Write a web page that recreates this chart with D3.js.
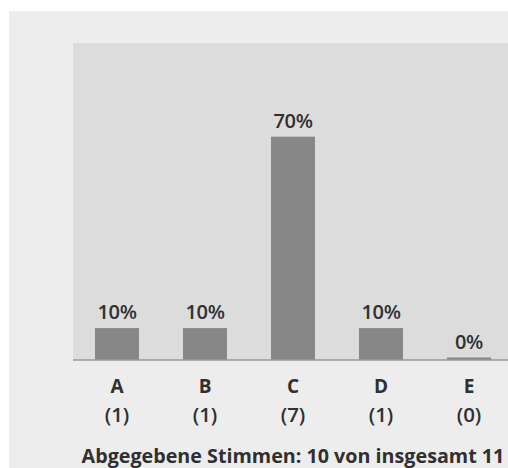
<!DOCTYPE html>
<html>
<head>
<meta charset="utf-8">
<script src="https://cdn.jsdelivr.net/npm/d3@7"></script>
<style>
  html, body { margin: 0; padding: 0; background: #ffffff; overflow: hidden; }
  svg { display: block; }
  text { font-family: "Open Sans", "Noto Sans", sans-serif; fill: #303030; }
</style>
</head>
<body>
<div id="chart"></div>
<script>
// Poll results: answer options, vote counts and share of votes cast
const categories = ["A", "B", "C", "D", "E"];
const votes = [1, 1, 7, 1, 0];
const percents = [10, 10, 70, 10, 0];
const castVotes = 10;
const totalVoters = 11;

const W = 508, H = 468;
const svg = d3.select("#chart").append("svg")
  .attr("width", W).attr("height", H);

// outer light panel
svg.append("rect")
  .attr("x", 9).attr("y", 11)
  .attr("width", W + 20).attr("height", H)
  .attr("fill", "#ededed");

const plot = { left: 73, top: 43, right: 513, bottom: 360 };

// darker plot area
svg.append("rect")
  .attr("x", plot.left).attr("y", plot.top)
  .attr("width", W + 20 - plot.left).attr("height", plot.bottom - plot.top)
  .attr("fill", "#dcdcdc");

const x = d3.scaleBand()
  .domain(categories)
  .range([plot.left, plot.right])
  .paddingInner(0.5)
  .paddingOuter(0.25);

const y = d3.scaleLinear()
  .domain([0, 100])
  .range([plot.bottom, plot.bottom - 319]);

const data = categories.map((c, i) => ({ cat: c, votes: votes[i], pct: percents[i] }));
const barTop = d => Math.min(y(d.pct), plot.bottom - 2.5);

// bars (empty options still get a thin stub)
svg.append("g").selectAll("rect")
  .data(data)
  .join("rect")
  .attr("x", d => x(d.cat))
  .attr("width", x.bandwidth())
  .attr("y", barTop)
  .attr("height", d => plot.bottom - barTop(d))
  .attr("fill", "#878787");

// value labels
svg.append("g").selectAll("text")
  .data(data)
  .join("text")
  .attr("x", d => x(d.cat) + x.bandwidth() / 2)
  .attr("y", d => barTop(d) - 9)
  .attr("text-anchor", "middle")
  .attr("font-size", 20)
  .attr("font-weight", 600)
  .attr("letter-spacing", -0.3)
  .text(d => d.pct + "%");

// baseline axis
const axis = svg.append("g")
  .attr("transform", `translate(0,${plot.bottom})`)
  .call(d3.axisBottom(x).tickSize(0).tickFormat(""));
axis.select(".domain").attr("stroke", "#9a9a9a").attr("stroke-width", 1.5)
  .attr("d", `M${plot.left},0H${W + 20}`);

// category letters and vote counts
const labels = svg.append("g").selectAll("g")
  .data(data)
  .join("g")
  .attr("transform", d => `translate(${x(d.cat) + x.bandwidth() / 2},0)`);
labels.append("text")
  .attr("y", 393)
  .attr("text-anchor", "middle")
  .attr("font-size", 19)
  .attr("font-weight", 700)
  .text(d => d.cat);
labels.append("text")
  .attr("y", 422)
  .attr("text-anchor", "middle")
  .attr("font-size", 20.5)
  .attr("font-weight", 600)
  .text(d => `(${d.votes})`);

// footer, sized to span the label row
const footer = svg.append("text")
  .attr("x", x("C") + x.bandwidth() / 2)
  .attr("y", 463)
  .attr("text-anchor", "middle")
  .attr("font-size", 20)
  .attr("font-weight", 700)
  .text(`Abgegebene Stimmen: ${castVotes} von insgesamt ${totalVoters}`);
const fw = footer.node().getComputedTextLength();
footer.attr("font-size", 20 * 423 / fw);
</script>
</body>
</html>
